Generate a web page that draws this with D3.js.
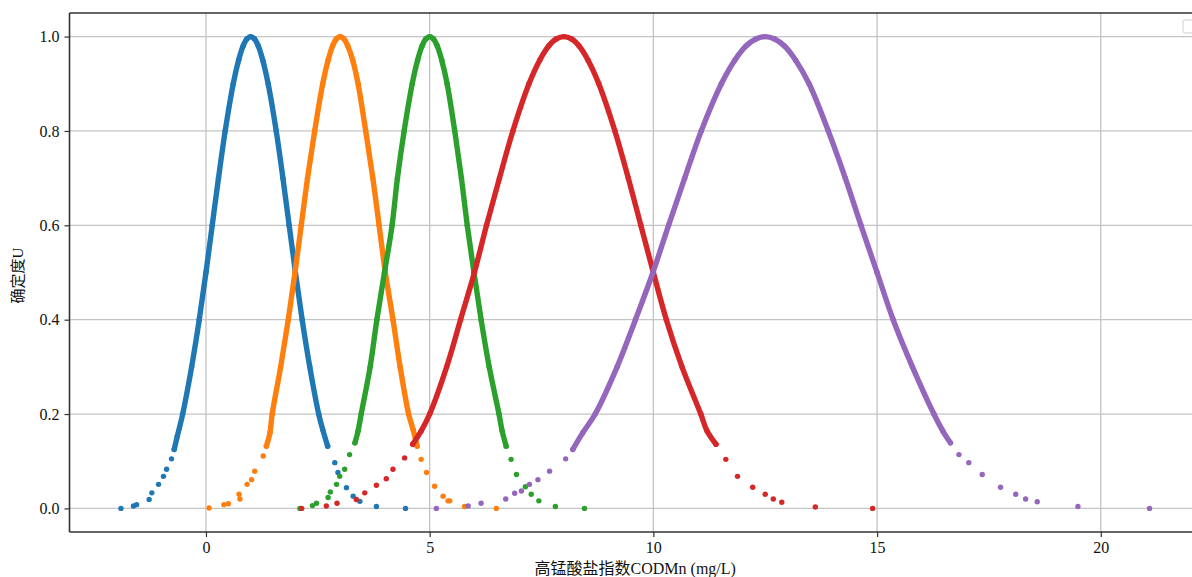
<!DOCTYPE html>
<html>
<head>
<meta charset="utf-8">
<script src="https://cdn.jsdelivr.net/npm/d3@7"></script>
<style>
  html, body { margin: 0; padding: 0; background: #fff; }
  svg { display: block; }
  text { font-family: "Liberation Serif", "Noto Sans CJK SC", serif; fill: #111; }
</style>
</head>
<body>
<svg width="1192" height="577"></svg>
<script>
// cloud drops, [x, certainty]
var bluePts = [[-1.9,0.0],[-1.62,0.005],[-1.55,0.008],[-1.27,0.019],[-1.21,0.033],[-1.06,0.051],[-0.95,0.068],[-0.88,0.083],[-0.77,0.105],[-0.71,0.125],[-0.64,0.153],
  [-0.52,0.2],[-0.32,0.3],[-0.15,0.4],[0.0,0.5],[0.14,0.6],[0.28,0.7],[0.43,0.8],[0.61,0.9],[0.73,0.95],[0.83,0.98],[0.915,0.995],[1.0,1.0],[1.085,0.995],[1.17,0.98],[1.27,0.95],[1.39,0.9],[1.57,0.8],[1.72,0.7],[1.86,0.6],[2.0,0.5],[2.15,0.4],[2.32,0.3],[2.52,0.2],
  [2.61,0.167],[2.72,0.132],[2.88,0.097],[2.95,0.076],[3.14,0.044],[3.29,0.026],[3.44,0.015],[3.81,0.004],[4.46,0.0]];
var orangePts = [[0.07,0.001],[0.40,0.008],[0.50,0.01],[0.74,0.03],[0.76,0.02],[0.92,0.051],[1.02,0.061],[1.09,0.079],[1.28,0.111],[1.35,0.132],[1.43,0.16],
  [1.48,0.2],[1.67,0.3],[1.84,0.4],[1.99,0.5],[2.13,0.6],[2.27,0.7],[2.43,0.8],[2.61,0.9],[2.73,0.95],[2.83,0.98],[2.915,0.995],[3.0,1.0],[3.085,0.995],[3.17,0.98],[3.28,0.95],[3.40,0.9],[3.57,0.8],[3.73,0.7],[3.87,0.6],[4.01,0.5],[4.18,0.4],[4.34,0.3],[4.53,0.2],
  [4.63,0.167],[4.72,0.132],[4.81,0.104],[4.93,0.076],[5.11,0.047],[5.30,0.026],[5.41,0.016],[5.45,0.016],[5.78,0.004],[6.49,0.0]];
var greenPts = [[2.10,0.0],[2.38,0.006],[2.47,0.011],[2.73,0.023],[2.78,0.035],[2.92,0.051],[2.99,0.068],[3.10,0.083],[3.21,0.114],[3.33,0.139],[3.40,0.164],
  [3.47,0.2],[3.67,0.3],[3.82,0.4],[3.99,0.5],[4.16,0.6],[4.28,0.7],[4.43,0.8],[4.61,0.9],[4.73,0.95],[4.83,0.98],[4.915,0.995],[5.0,1.0],[5.085,0.995],[5.17,0.98],[5.27,0.95],[5.39,0.9],[5.56,0.8],[5.71,0.7],[5.84,0.6],[5.99,0.5],[6.15,0.4],[6.33,0.3],[6.55,0.2],
  [6.62,0.164],[6.71,0.132],[6.82,0.104],[6.94,0.072],[7.14,0.046],[7.27,0.03],[7.44,0.016],[7.81,0.004],[8.46,0.0]];
var redPts = [[2.14,0.0],[2.69,0.005],[2.93,0.011],[3.36,0.019],[3.55,0.033],[3.81,0.049],[4.03,0.063],[4.18,0.083],[4.44,0.107],[4.62,0.136],[4.81,0.164],
  [5.0,0.2],[5.38,0.3],[5.69,0.4],[6.0,0.5],[6.27,0.6],[6.56,0.7],[6.86,0.8],[7.22,0.9],[7.46,0.95],[7.66,0.98],[7.83,0.995],[8.0,1.0],[8.17,0.995],[8.34,0.98],[8.54,0.95],[8.78,0.9],[9.14,0.8],[9.44,0.7],[9.72,0.6],[10.0,0.5],[10.29,0.4],[10.64,0.3],[11.06,0.2],
  [11.2,0.164],[11.40,0.136],[11.62,0.104],[11.88,0.068],[12.22,0.045],[12.5,0.03],[12.68,0.02],[12.87,0.013],[13.62,0.003],[14.9,0.0]];
var purplePts = [[5.15,0.0],[5.86,0.005],[6.15,0.011],[6.70,0.02],[6.90,0.032],[7.05,0.037],[7.23,0.051],[7.42,0.061],[7.68,0.079],[8.04,0.105],[8.2,0.125],[8.42,0.16],
  [8.70,0.2],[9.19,0.3],[9.60,0.4],[9.99,0.5],[10.34,0.6],[10.70,0.7],[11.07,0.8],[11.52,0.9],[11.82,0.95],[12.07,0.98],[12.29,0.995],[12.5,1.0],[12.71,0.995],[12.93,0.98],[13.18,0.95],[13.48,0.9],[13.91,0.8],[14.29,0.7],[14.64,0.6],[15.0,0.5],[15.36,0.4],[15.79,0.3],[16.27,0.2],
  [16.47,0.164],[16.64,0.139],[16.83,0.114],[17.05,0.097],[17.35,0.072],[17.76,0.045],[18.1,0.03],[18.32,0.02],[18.58,0.014],[19.49,0.004],[21.09,0.0]];

var seriesList = [bluePts, orangePts, greenPts, redPts, purplePts];
var seriesColors = ["#1f77b4", "#ff7f0e", "#2ca02c", "#d62728", "#9467bd"];

var xTicks = [0, 5, 10, 15, 20];
var yTicks = [0.0, 0.2, 0.4, 0.6, 0.8, 1.0];
var xLabel = "高锰酸盐指数CODMn (mg/L)";
var yLabel = "确定度U";

// plot frame (window.top is taken, so no bare "top" here)
var padL = 69.5, padR = 1201, padT = 13, padB = 532;

var svg = d3.select("svg");
var x = d3.scaleLinear().domain([-3.05, 22.24]).range([padL, padR]);
var y = d3.scaleLinear().domain([-0.05, 1.05]).range([padB, padT]);

// grid
svg.append("g").selectAll("line").data(xTicks).enter().append("line")
  .attr("x1", function(d){ return x(d); }).attr("x2", function(d){ return x(d); })
  .attr("y1", padT).attr("y2", padB)
  .attr("stroke", "#c4c4c4").attr("stroke-width", 1.3);
svg.append("g").selectAll("line").data(yTicks).enter().append("line")
  .attr("x1", padL).attr("x2", padR)
  .attr("y1", function(d){ return y(d); }).attr("y2", function(d){ return y(d); })
  .attr("stroke", "#c4c4c4").attr("stroke-width", 1.3);

// drops: a thick band through the dense part plus dots
var band = d3.line()
  .x(function(d){ return x(d[0]); })
  .y(function(d){ return y(d[1]); })
  .curve(d3.curveCatmullRom);

seriesList.forEach(function(pts, i){
  var g = svg.append("g");
  var dense = pts.filter(function(d){ return d[1] >= 0.12; });
  g.append("path").attr("d", band(dense))
    .attr("fill", "none").attr("stroke", seriesColors[i])
    .attr("stroke-width", 5.4).attr("stroke-linecap", "round").attr("stroke-linejoin", "round");
  g.selectAll("circle").data(pts).enter().append("circle")
    .attr("cx", function(d){ return x(d[0]); })
    .attr("cy", function(d){ return y(d[1]); })
    .attr("r", 2.7)
    .attr("fill", seriesColors[i]);
});

// spines
svg.append("line").attr("x1", padL).attr("x2", padL).attr("y1", padT).attr("y2", padB)
  .attr("stroke", "#333").attr("stroke-width", 1.6);
svg.append("line").attr("x1", padL).attr("x2", padR).attr("y1", padB).attr("y2", padB)
  .attr("stroke", "#333").attr("stroke-width", 1.6);
svg.append("line").attr("x1", padL).attr("x2", padR).attr("y1", padT).attr("y2", padT)
  .attr("stroke", "#333").attr("stroke-width", 1.6);

// axes
var xAxis = d3.axisBottom(x).tickValues(xTicks).tickSize(5).tickPadding(5).tickFormat(d3.format("d"));
var yAxis = d3.axisLeft(y).tickValues(yTicks).tickSize(5).tickPadding(5).tickFormat(d3.format(".1f"));
var gx = svg.append("g").attr("transform", "translate(0," + padB + ")").call(xAxis);
var gy = svg.append("g").attr("transform", "translate(" + padL + ",0)").call(yAxis);
[gx, gy].forEach(function(g){
  g.select(".domain").remove();
  g.selectAll(".tick line").attr("stroke", "#333").attr("stroke-width", 1.2);
  g.selectAll("text").attr("font-size", 16).attr("font-family", "Liberation Serif, serif").attr("fill", "#111");
});

// axis labels
svg.append("text").attr("x", (padL + padR) / 2).attr("y", 574)
  .attr("text-anchor", "middle").attr("font-size", 16).text(xLabel);
svg.append("text").attr("transform", "translate(23," + ((padT + padB) / 2 + 3) + ") rotate(-90)")
  .attr("text-anchor", "middle").attr("font-size", 15).text(yLabel);

// empty legend box (top right, clipped by the window)
svg.append("rect").attr("x", 1183).attr("y", 20).attr("width", 24).attr("height", 13).attr("rx", 2)
  .attr("fill", "#fff").attr("fill-opacity", 0.8).attr("stroke", "#d0d0d0").attr("stroke-width", 1);
</script>
</body>
</html>
